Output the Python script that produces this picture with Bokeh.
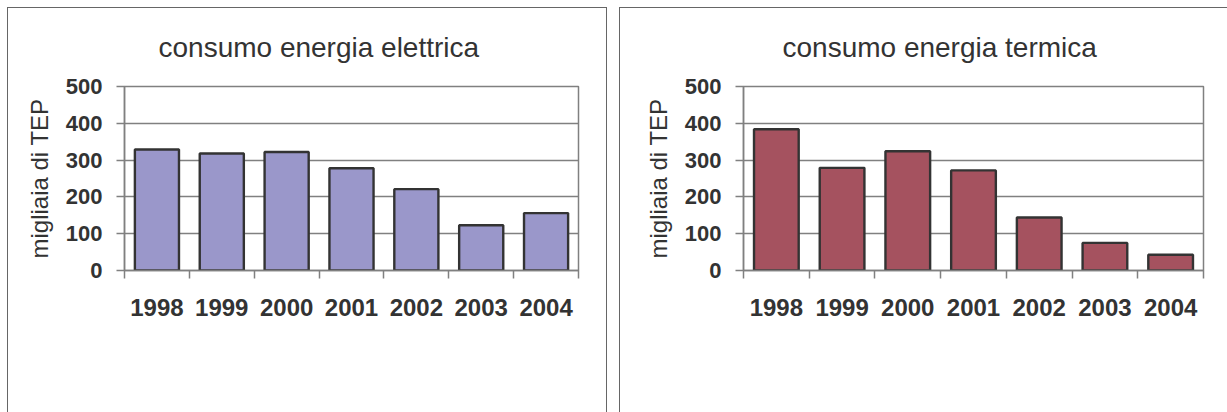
from bokeh.plotting import figure
from bokeh.models import Range1d, FixedTicker, ColumnDataSource
from bokeh.layouts import row
from bokeh.embed import file_html
from bokeh.resources import INLINE

years = ["1998", "1999", "2000", "2001", "2002", "2003", "2004"]
elettrica = [329, 318, 322, 278, 221, 123, 156]
termica = [384, 279, 324, 272, 144, 75, 43]
y_ticks = [0, 100, 200, 300, 400, 500]
titles = ["consumo energia elettrica", "consumo energia termica"]
y_label = "migliaia di TEP"

TXT = "#333333"
GRID = "#808080"


def panel(title, values, color, width, fl, fr, fb, title_off, borders):
    n = len(years)
    centers = [i + 0.5 for i in range(n)]
    bounds = list(range(n + 1))
    p = figure(width=width, height=405, x_range=Range1d(0, n), y_range=Range1d(0, 500),
               output_backend="svg", toolbar_location=None,
               min_border_left=fl, min_border_right=fr, min_border_top=78,
               min_border_bottom=fb, styles=borders)
    p.background_fill_color = "white"
    p.border_fill_color = "white"
    p.outline_line_color = GRID
    p.outline_line_width = 1.5

    p.title.text = title
    p.title.align = "left"
    p.title.offset = title_off
    p.title.standoff = 44
    p.title.vertical_align = "top"
    p.title.text_font = "Liberation Sans"
    p.title.text_font_style = "normal"
    p.title.text_font_size = "28px"
    p.title.text_color = TXT

    src = ColumnDataSource(dict(x=centers, top=values))
    p.vbar(x="x", top="top", bottom=0, width=0.68, source=src,
           fill_color=color, line_color="#333333", line_width=2.4)

    # y axis
    p.yaxis.ticker = FixedTicker(ticks=y_ticks)
    p.yaxis.axis_line_color = GRID
    p.yaxis.axis_line_width = 1.5
    p.yaxis.major_tick_line_color = GRID
    p.yaxis.major_tick_line_width = 1.5
    p.yaxis.major_tick_out = 8
    p.yaxis.major_tick_in = 0
    p.yaxis.minor_tick_line_color = None
    p.yaxis.major_label_standoff = 14
    p.yaxis.major_label_text_font = "Liberation Sans"
    p.yaxis.major_label_text_font_style = "bold"
    p.yaxis.major_label_text_font_size = "22px"
    p.yaxis.major_label_text_color = TXT
    p.yaxis.axis_label = y_label
    p.yaxis.axis_label_text_font = "Liberation Sans"
    p.yaxis.axis_label_text_font_style = "normal"
    p.yaxis.axis_label_text_font_size = "24px"
    p.yaxis.axis_label_text_color = TXT
    p.yaxis.axis_label_standoff = 10

    p.ygrid.grid_line_color = GRID
    p.ygrid.grid_line_width = 1.5
    p.xgrid.grid_line_color = None

    # x axis: labels at centres, ticks at category boundaries
    p.xaxis.ticker = FixedTicker(ticks=centers, minor_ticks=bounds)
    p.xaxis.major_label_overrides = {c: y for c, y in zip(centers, years)}
    p.xaxis.axis_line_color = GRID
    p.xaxis.axis_line_width = 1.5
    p.xaxis.major_tick_line_color = None
    p.xaxis.major_tick_out = 0
    p.xaxis.major_tick_in = 0
    p.xaxis.minor_tick_line_color = GRID
    p.xaxis.minor_tick_line_width = 1.5
    p.xaxis.minor_tick_out = 8
    p.xaxis.minor_tick_in = 0
    p.xaxis.major_label_standoff = 20
    p.xaxis.major_label_text_font = "Liberation Sans"
    p.xaxis.major_label_text_font_style = "bold"
    p.xaxis.major_label_text_font_size = "24px"
    p.xaxis.major_label_text_color = TXT
    return p


b1 = {"border-top": "1.5px solid #666", "border-left": "1.5px solid #666",
      "border-right": "1.5px solid #666", "box-sizing": "border-box"}
b2 = {"border-top": "1.5px solid #666", "border-left": "1.5px solid #666",
      "box-sizing": "border-box"}

p1 = panel(titles[0], elettrica, "#9A97CA", 600, 116, 30, 143, 34, b1)
p2 = panel(titles[1], termica, "#A5525F", 608, 123, 25, 142, 39, b2)

layout = row(p1, p2, spacing=12, margin=(7, 0, 0, 7))
open("out.html", "w").write(file_html(layout, INLINE))
